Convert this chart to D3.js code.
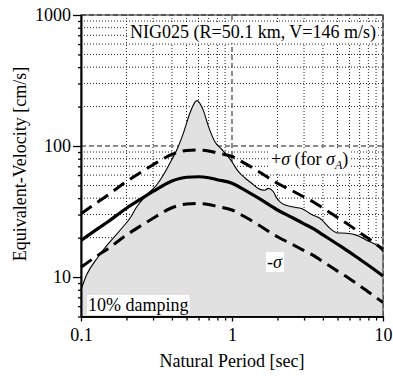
<!DOCTYPE html>
<html>
<head>
<meta charset="utf-8">
<script src="https://cdn.jsdelivr.net/npm/d3@7"></script>
<style>
  html, body { margin: 0; padding: 0; background: #fff; }
  svg { display: block; }
  svg text { font-family: "Liberation Serif", "DejaVu Serif", "Noto Serif", serif !important; }
</style>
</head>
<body>
<svg id="chart" width="393" height="376"></svg>
<script>
// ---- data ----
const spectrumPeriods = [0.1, 0.109, 0.13, 0.155, 0.19, 0.211, 0.234, 0.272, 0.317, 0.351,
  0.398, 0.43, 0.476, 0.526, 0.584, 0.645, 0.7, 0.77, 0.85, 0.92,
  0.99, 1.1, 1.22, 1.35, 1.49, 1.65, 1.74, 1.88, 1.98, 2.14,
  2.49, 2.89, 3.37, 3.84, 4.46, 4.93, 5.73, 6.67, 7.77, 9.57, 10];
const spectrumValues = [8.0, 10.4, 14.3, 18.5, 24.2, 28.1, 34.4, 42.3, 50.4, 60.1,
  78.2, 93, 125, 178, 222, 188, 140, 108, 95, 86,
  77, 64, 57, 52, 47.5, 46, 47.5, 44.8, 40, 36.5,
  34.4, 33.4, 30, 28, 23.5, 21.8, 21.6, 20.9, 19.1, 16.6, 15.6];

const modelPeriods = [0.1, 0.13, 0.15, 0.2, 0.25, 0.3, 0.35, 0.4, 0.45, 0.5, 0.6, 0.7, 0.8,
  1.0, 1.2, 1.5, 2.0, 2.5, 3.0, 3.5, 4.0, 5.0, 6.0, 7.0, 8.0, 10];
const meanValues = [19, 23.5, 26.3, 33.5, 39.5, 45, 50, 54, 56.5, 57.8, 58.3, 57.3, 55.3,
  52, 46.5, 40, 32.5, 28.5, 25.5, 23.2, 21.0, 17.8, 15.5, 13.7, 12.3, 10.2];
const plusSigmaValues = [30.4, 37.6, 42.1, 53.6, 63.2, 72, 80, 86.4, 90.4, 92.5, 93.3, 91.7, 88.5,
  83.2, 74.4, 64, 52, 45.6, 40.8, 37.1, 33.6, 28.5, 24.8, 21.9, 19.7, 16.3];
const minusSigmaValues = [11.9, 14.7, 16.4, 20.9, 24.7, 28.1, 31.3, 33.8, 35.3, 36.1, 36.4, 35.8, 34.6,
  32.5, 29.1, 25, 20.3, 17.8, 15.9, 14.5, 13.1, 11.1, 9.7, 8.6, 7.7, 6.4];

const xMajorTicks = [0.1, 1, 10];
const xMinorTicks = [0.2, 0.3, 0.4, 0.5, 0.6, 0.7, 0.8, 0.9, 2, 3, 4, 5, 6, 7, 8, 9];
const yMajorTicks = [10, 100, 1000];
const yMinorTicks = [5, 6, 7, 8, 9, 20, 30, 40, 50, 60, 70, 80, 90, 200, 300, 400, 500, 600, 700, 800, 900];
const xTickLabels = ["0.1", "1", "10"];
const yTickLabels = ["10", "100", "1000"];

const titleText = "NIG025 (R=50.1 km, V=146 m/s)";
const dampingText = "10% damping";
const xAxisTitle = "Natural Period [sec]";
const yAxisTitle = "Equivalent-Velocity [cm/s]";

// ---- drawing ----
const FONT = "'Liberation Serif', 'DejaVu Serif', 'Noto Serif', serif";
const svg = d3.select("#chart");
const L = 81, R = 383, T = 15, B = 316.5;
const x = d3.scaleLog().domain([0.1, 10]).range([L, R]);
const y = d3.scaleLog().domain([5, 1000]).range([B, T]);
const FS = 18;

// grid (dotted)
const grid = svg.append("g");
grid.selectAll("line.gx").data(xMinorTicks).join("line")
  .attr("x1", d => x(d)).attr("x2", d => x(d)).attr("y1", T).attr("y2", B)
  .attr("stroke", "#222").attr("stroke-width", 1).attr("stroke-dasharray", "1,2");
grid.selectAll("line.gy").data(yMinorTicks).join("line")
  .attr("x1", L).attr("x2", R).attr("y1", d => y(d)).attr("y2", d => y(d))
  .attr("stroke", "#222").attr("stroke-width", 1).attr("stroke-dasharray", "1,2");
// dashed reference lines at major values
grid.selectAll("line.mx").data([1, 10]).join("line")
  .attr("x1", d => x(d)).attr("x2", d => x(d)).attr("y1", T).attr("y2", B)
  .attr("stroke", "#666").attr("stroke-width", 1.5).attr("stroke-dasharray", "5,3");
grid.selectAll("line.my").data([100, 1000]).join("line")
  .attr("x1", L).attr("x2", R).attr("y1", d => y(d)).attr("y2", d => y(d))
  .attr("stroke", "#666").attr("stroke-width", 1.5).attr("stroke-dasharray", "5,3");

// spectrum area + line
const spec = spectrumPeriods.map((p, i) => [p, spectrumValues[i]]);
const area = d3.area().x(d => x(d[0])).y0(B).y1(d => y(d[1])).curve(d3.curveMonotoneX);
const line = d3.line().x(d => x(d[0])).y(d => y(d[1])).curve(d3.curveMonotoneX);
svg.append("path").datum(spec).attr("d", area).attr("fill", "#e1e1e1");
svg.append("path").datum(spec).attr("d", line).attr("fill", "none")
  .attr("stroke", "#000").attr("stroke-width", 1.1);

// model lines
const mk = vals => modelPeriods.map((p, i) => [p, vals[i]]);
svg.append("path").datum(mk(plusSigmaValues)).attr("d", line).attr("fill", "none")
  .attr("stroke", "#000").attr("stroke-width", 3).attr("stroke-dasharray", "13,7");
svg.append("path").datum(mk(minusSigmaValues)).attr("d", line).attr("fill", "none")
  .attr("stroke", "#000").attr("stroke-width", 3).attr("stroke-dasharray", "13,7");
svg.append("path").datum(mk(meanValues)).attr("d", line).attr("fill", "none")
  .attr("stroke", "#000").attr("stroke-width", 3.2);

// labels with white boxes
function boxedText(g, pad) {
  const bb = g.node().getBBox();
  d3.select(g.node().parentNode).insert("rect", () => g.node())
    .attr("x", bb.x - pad[0]).attr("y", bb.y - pad[1])
    .attr("width", bb.width + pad[0] * 2).attr("height", bb.height + pad[1] * 2)
    .attr("fill", "#fff");
}
const tg = svg.append("g");
const title = tg.append("text").attr("x", 130).attr("y", 38).attr("font-family", FONT)
  .attr("font-size", FS).text(titleText);
boxedText(title, [2, 0]);

const sg = svg.append("g");
const sig = sg.append("text").attr("x", 271).attr("y", 165).attr("font-family", FONT).attr("font-size", FS);
sig.append("tspan").text("+");
sig.append("tspan").attr("font-style", "italic").text("σ");
sig.append("tspan").text(" (for ");
sig.append("tspan").attr("font-style", "italic").text("σ");
sig.append("tspan").attr("font-style", "italic").attr("font-size", 12).attr("dy", 4).text("A");
sig.append("tspan").attr("dy", -4).text(")");
boxedText(sig, [2, 0]);

const mg = svg.append("g");
const msig = mg.append("text").attr("x", 267).attr("y", 268).attr("font-family", FONT).attr("font-size", FS);
msig.append("tspan").text("-");
msig.append("tspan").attr("font-style", "italic").text("σ");
boxedText(msig, [1, 0]);

const dg = svg.append("g");
const damp = dg.append("text").attr("x", 88).attr("y", 311).attr("font-family", FONT)
  .attr("font-size", FS).text(dampingText);
boxedText(damp, [1, 0]);

// frame
svg.append("rect").attr("x", L).attr("y", T).attr("width", R - L).attr("height", B - T)
  .attr("fill", "none").attr("stroke", "#222").attr("stroke-width", 1);

// axes
const axStyle = g => {
  g.attr("font-family", FONT).attr("font-size", FS);
  g.selectAll("path").attr("stroke", "#000").attr("stroke-width", 1.6);
  g.selectAll("line").attr("stroke", "#000").attr("stroke-width", 1.3);
  g.selectAll("text").attr("font-family", FONT).attr("font-size", FS).attr("fill", "#000");
};
svg.append("g").attr("transform", `translate(${L},0)`)
  .call(d3.axisLeft(y).tickValues(yMinorTicks).tickSize(3).tickSizeOuter(0).tickFormat(""))
  .call(axStyle);
svg.append("g").attr("transform", `translate(${L},0)`)
  .call(d3.axisLeft(y).tickValues(yMajorTicks).tickSize(8).tickSizeOuter(0).tickPadding(2)
    .tickFormat((d, i) => yTickLabels[i]))
  .call(axStyle);
svg.append("g").attr("transform", `translate(0,${B})`)
  .call(d3.axisBottom(x).tickValues(xMinorTicks).tickSize(4).tickSizeOuter(0).tickFormat(""))
  .call(axStyle);
svg.append("g").attr("transform", `translate(0,${B})`)
  .call(d3.axisBottom(x).tickValues(xMajorTicks).tickSize(5).tickSizeOuter(0).tickPadding(7)
    .tickFormat((d, i) => xTickLabels[i]))
  .call(axStyle);

// axis titles
svg.append("text").attr("x", (L + R) / 2).attr("y", 367).attr("text-anchor", "middle")
  .attr("font-family", FONT).attr("font-size", FS).text(xAxisTitle);
svg.append("text").attr("transform", `translate(26,164) rotate(-90)`)
  .attr("text-anchor", "middle").attr("font-family", FONT).attr("font-size", FS).text(yAxisTitle);
</script>
</body>
</html>
